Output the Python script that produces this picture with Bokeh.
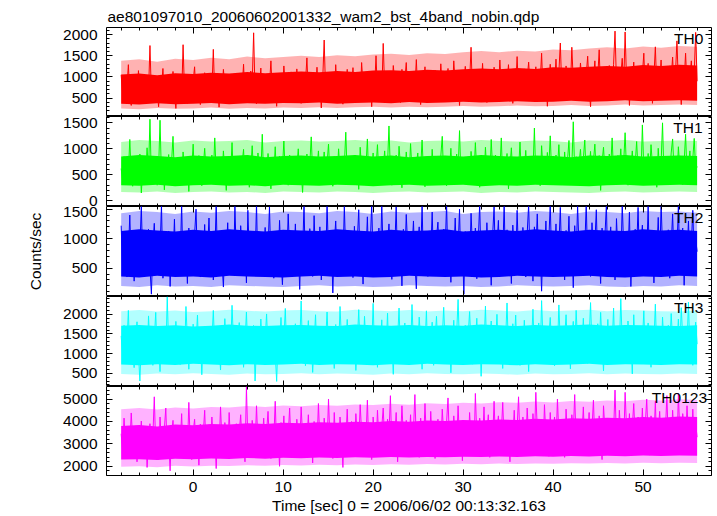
from bokeh.plotting import figure
from bokeh.layouts import column
from bokeh.models import (Range1d, LinearAxis, SingleIntervalTicker, Label,
                          CustomLabelingPolicy)
from bokeh.embed import file_html
from bokeh.resources import INLINE

TITLE = "ae801097010_20060602001332_wam2_bst_4band_nobin.qdp"
X_LABEL = "Time [sec] 0 = 2006/06/02 00:13:32.163"
Y_LABEL = "Counts/sec"
BANDS = ["TH0", "TH1", "TH2", "TH3", "TH0123"]

# fine light-curve samples
T_START = -8.0
T_STEP = 0.16

# envelopes of the unbinned curve, 2 s bins: solid core and sparse outer fringe
BIN_START = -8.0
BIN_STEP = 2.0

TH0 = [
    1050, 620, 410, 880, 730, 1290, 560, 330, 940, 690, 820, 480, 1150, 600, 760, 370, 990, 540, 870, 650,
    1740, 580, 830, 450, 1020, 690, 300, 910, 760, 1200, 520, 640, 980, 400, 850, 710, 1130, 570, 260, 800,
    690, 940, 510, 1760, 620, 830, 380, 1060, 740, 560, 900, 1240, 470, 680, 810, 350, 970, 620, 1100, 530,
    780, 430, 1010, 670, 1650, 550, 860, 720, 290, 940, 610, 1180, 800, 480, 700, 1030, 570, 890, 420, 760,
    640, 1090, 510, 830, 720, 1300, 450, 960, 680, 580, 1140, 820, 2040, 610, 370, 900, 760, 1210, 530, 870,
    690, 1020, 430, 800, 1380, 590, 910, 740, 310, 1070, 650, 860, 520, 1260, 780, 460, 950, 700, 1120, 560,
    830, 480, 1190, 700, 920, 380, 1050, 640, 870, 1450, 560, 760, 1010, 430, 890, 680, 1230, 590, 820, 270,
    960, 1870, 620, 840, 510, 1100, 730, 920, 450, 1290, 680, 800, 1040, 560, 360, 910, 770, 1180, 640, 990,
    710, 1220, 530, 880, 1010, 640, 420, 1340, 790, 960, 580, 1100, 690, 850, 300, 1030, 740, 1500, 610, 900,
    1060, 580, 1790, 720, 950, 470, 1140, 810, 640, 1270, 890, 530, 1010, 740, 400, 1180, 680, 920, 1340, 600,
    860, 1130, 490, 990, 720, 1410, 610, 880, 350, 1050, 770, 1240, 560, 930, 690, 1090, 820, 450, 1160, 710,
    950, 620, 1310, 780, 1060, 430, 890, 1200, 700, 980, 560, 1380, 840, 640, 1110, 330, 930, 1020, 760, 1250,
    690, 1040, 870, 1700, 590, 960, 1180, 480, 820, 1090, 730, 1320, 620, 900, 400, 1140, 780, 1010, 560, 1230,
    880, 1060, 650, 1400, 790, 940, 520, 1170, 830, 1290, 700, 990, 380, 1120, 760, 1480, 610, 930, 1050, 720,
    1190, 580, 960, 1350, 790, 1080, 440, 900, 1240, 680, 1030, 850, 1560, 620, 980, 1140, 310, 870, 1300, 740,
    1010, 810, 1420, 650, 1110, 1800, 720, 950, 530, 1260, 860, 1040, 690, 1700, 900, 1160, 470, 1000, 780, 1330,
    880, 1220, 640, 1050, 1490, 760, 300, 1130, 930, 1380, 700, 1010, 1640, 580, 960, 1190, 820, 1080, 500, 1270,
    970, 720, 1300, 2080, 860, 1150, 600, 1020, 1440, 780, 2060, 900, 1180, 330, 1060, 830, 1350, 650, 1110, 940,
    1240, 770, 1050, 1560, 610, 990, 1320, 860, 1150, 380, 1010, 1710, 730, 1080, 920, 1400, 560, 1190, 850, 1060,
    780, 1260, 960, 1470, 680, 1100, 1850, 840, 1030, 350, 1220, 900, 1560, 740, 1130, 990, 1380, 620, 1080, 2050,
    900,
]

TH1 = [
    620, 410, 850, 330, 720, 540, 1180, 460, 280, 690, 810, 370, 590, 900, 150, 640, 760, 480, 1020, 550,
    1570, 390, 700, 520, 860, 300, 610, 1550, 440, 780, 210, 660, 540, 890, 350, 730, 1240, 470, 620, 810,
    500, 760, 330, 940, 580, 420, 690, 180, 830, 610, 1090, 380, 720, 540, 870, 460, 290, 650, 1010, 560,
    740, 380, 610, 880, 470, 1210, 550, 320, 790, 640, 430, 960, 580, 200, 700, 860, 510, 1120, 410, 680,
    450, 830, 560, 310, 720, 990, 400, 650, 870, 260, 590, 1060, 480, 770, 340, 920, 630, 520, 1280, 390,
    670, 480, 910, 590, 230, 780, 520, 1040, 410, 690, 860, 350, 620, 1150, 500, 740, 300, 880, 560, 710,
    360, 820, 640, 1000, 470, 590, 160, 760, 540, 900, 420, 690, 1230, 510, 330, 810, 620, 960, 450, 730,
    580, 940, 400, 720, 1090, 510, 660, 280, 850, 610, 470, 1000, 550, 790, 380, 680, 1320, 490, 860, 320,
    690, 450, 880, 560, 740, 220, 1030, 600, 470, 800, 650, 1190, 390, 710, 540, 920, 300, 630, 1080, 500,
    830, 370, 620, 960, 480, 710, 1440, 540, 300, 760, 590, 880, 430, 1050, 650, 250, 790, 520, 940, 610,
    470, 1100, 560, 780, 350, 690, 920, 440, 620, 1170, 510, 270, 840, 600, 730, 400, 990, 550, 820, 380,
    710, 520, 860, 1240, 430, 640, 290, 770, 590, 1010, 480, 680, 350, 900, 570, 1350, 460, 740, 610, 830,
    540, 800, 330, 950, 620, 470, 1120, 570, 720, 260, 860, 640, 410, 1030, 530, 780, 390, 1180, 600, 700,
    880, 440, 690, 560, 1210, 380, 760, 610, 910, 230, 650, 1020, 500, 720, 840, 360, 590, 1130, 470, 800,
    600, 970, 490, 730, 350, 860, 560, 1400, 420, 680, 820, 290, 1060, 580, 710, 450, 930, 640, 1250, 510,
    760, 390, 880, 620, 1080, 470, 690, 310, 940, 550, 780, 1160, 430, 660, 1520, 520, 850, 370, 720, 990,
    530, 810, 1170, 450, 700, 600, 950, 330, 760, 1090, 490, 640, 870, 200, 740, 1030, 560, 680, 420, 900,
    650, 1210, 500, 790, 380, 870, 610, 1000, 460, 730, 1310, 550, 300, 820, 640, 960, 480, 700, 1140, 590,
    840, 420, 1460, 600, 730, 350, 910, 530, 1080, 680, 470, 790, 260, 1010, 570, 720, 1500, 440, 860, 630,
    710, 480, 920, 1190, 560, 780, 400, 1040, 620, 850, 310, 740, 1280, 530, 690, 960, 450, 810, 1200, 580,
    660,
]

TH2 = [
    1220, 480, 860, 1090, 350, 740, 1400, 560, 930, 280, 680, 1010, 450, 820, 1550, 600, 370, 970, 720, 1160,
    510, 60, 890, 1260, 640, 400, 1050, 780, 1580, 330, 700, 940, 520, 1130, 190, 850, 610, 1330, 460, 790,
    1020, 580, 1600, 420, 760, 900, 240, 1180, 660, 830, 470, 1070, 1500, 540, 720, 350, 980, 620, 1240, 430,
    800, 1350, 560, 1000, 300, 690, 1590, 470, 870, 1110, 620, 180, 940, 760, 1270, 510, 680, 1040, 390, 1570,
    650, 920, 430, 1220, 780, 560, 1030, 250, 1480, 700, 850, 480, 1130, 610, 1600, 370, 900, 740, 1060, 520,
    1190, 410, 820, 1540, 600, 960, 330, 730, 1080, 510, 1310, 680, 220, 890, 1020, 570, 1420, 780, 460, 1000,
    690, 1250, 520, 880, 140, 1050, 760, 1580, 430, 940, 610, 1170, 830, 360, 1390, 650, 990, 540, 1200, 300,
    860, 1100, 470, 1600, 720, 590, 1010, 80, 900, 1300, 640, 800, 390, 1140, 560, 1550, 700, 930, 450, 1060,
    780, 340, 1210, 620, 960, 1490, 530, 870, 230, 1040, 730, 1370, 480, 880, 1600, 610, 1080, 400, 750, 1180,
    560, 1600, 700, 1020, 420, 900, 1250, 650, 310, 1090, 830, 1540, 510, 740, 970, 200, 1160, 620, 1410, 860,
    430, 1050, 790, 1300, 580, 150, 940, 1200, 670, 1580, 480, 820, 1010, 360, 1130, 730, 1450, 560, 890, 1020,
    1280, 640, 900, 370, 1160, 780, 1600, 510, 990, 260, 1070, 700, 1350, 590, 830, 1500, 440, 950, 60, 1120,
    720, 1030, 480, 1430, 850, 610, 1180, 320, 960, 1590, 540, 780, 1100, 420, 1270, 680, 900, 210, 1060, 1540,
    590, 880, 1310, 460, 1000, 740, 1600, 380, 1150, 650, 930, 240, 1230, 810, 560, 1480, 700, 1040, 440, 1190,
    820, 350, 1090, 1580, 640, 910, 280, 1200, 760, 1420, 530, 870, 110, 1020, 690, 1300, 480, 960, 1600, 600,
    1040, 730, 1250, 410, 880, 1530, 620, 990, 300, 1140, 780, 1380, 500, 910, 170, 1220, 660, 1560, 840, 700,
    470, 1110, 860, 1600, 580, 1000, 360, 1270, 720, 930, 1490, 520, 820, 240, 1180, 670, 1050, 1580, 430, 900,
    1200, 640, 980, 300, 1340, 770, 1090, 520, 1600, 850, 410, 1020, 700, 1450, 190, 940, 610, 1160, 800, 1530,
    560, 920, 1230, 450, 1070, 690, 1560, 380, 860, 1130, 250, 990, 740, 1360, 520, 1600, 830, 470, 1050, 710,
    1150, 330, 880, 1420, 620, 1010, 770, 1590, 480, 940, 1180, 210, 1060, 710, 1300, 560, 900, 1480, 650, 1000,
    780,
]

TH3 = [
    1450, 980, 1720, 760, 1230, 2100, 890, 1560, 1100, 640, 1380, 1810, 1010, 300, 1290, 920, 1650, 1180, 820, 1960,
    1120, 1540, 700, 1350, 2050, 980, 1270, 540, 1690, 1060, 1430, 850, 2450, 1170, 760, 1580, 1310, 900, 1820, 1080,
    1400, 720, 1620, 1190, 960, 2200, 1340, 600, 1510, 1030, 1750, 870, 1260, 1980, 940, 1460, 460, 1370, 1090, 1700,
    1000, 1580, 780, 1310, 2100, 1150, 890, 1690, 1240, 580, 1480, 1020, 1890, 1170, 720, 1420, 1060, 2230, 1300, 840,
    1530, 1110, 1790, 960, 1390, 650, 1260, 2060, 1050, 1610, 880, 1340, 1720, 300, 1190, 1480, 990, 1880, 1230, 770,
    1370, 2010, 1080, 1560, 830, 1290, 1700, 1010, 290, 1450, 1150, 1920, 940, 1330, 2150, 1060, 1610, 780, 1270, 1490,
    1130, 1760, 870, 1420, 1210, 2340, 1000, 1550, 690, 1300, 1840, 1080, 1470, 520, 1250, 1990, 950, 1380, 1650, 1070,
    1500, 820, 1330, 2060, 1160, 1610, 900, 1400, 620, 1740, 1240, 1050, 2200, 1350, 760, 1590, 1120, 1870, 980, 1290,
    1680, 1030, 1460, 570, 1300, 2120, 1090, 1520, 860, 1950, 1200, 1410, 740, 1630, 1150, 2280, 1010, 1380, 650, 1570,
    1250, 1860, 940, 1440, 1130, 2030, 810, 1560, 1280, 470, 1700, 1060, 1390, 2160, 990, 1510, 1180, 1780, 880, 1330,
    1620, 1040, 2250, 1210, 760, 1480, 1100, 1930, 1320, 600, 1540, 1170, 2090, 910, 1410, 1250, 1800, 700, 1360, 1950,
    1090, 1570, 840, 1390, 2180, 1230, 1660, 960, 1440, 510, 1280, 1850, 1070, 1500, 2380, 1140, 1620, 830, 1350, 1720,
    980, 1460, 2070, 1200, 730, 1540, 1310, 1900, 1050, 1640, 420, 1380, 1160, 2210, 930, 1470, 1290, 1830, 770, 1560,
    1240, 2000, 1030, 1500, 1180, 620, 1690, 1350, 2290, 1080, 1420, 860, 1760, 1220, 1980, 990, 1530, 700, 1400, 1110,
    1850, 1160, 1390, 540, 1610, 1270, 2130, 1020, 1480, 1190, 1780, 880, 2350, 1300, 1070, 1560, 800, 1450, 1920, 1210,
    1340, 690, 1580, 1100, 2240, 1230, 1700, 940, 1410, 1990, 1150, 1520, 610, 1370, 1820, 1060, 2100, 1280, 870, 1640,
    1200, 1900, 1010, 1460, 750, 1330, 2300, 1180, 1600, 920, 1390, 1760, 1090, 2050, 1260, 560, 1510, 1140, 1870, 1020,
    1480, 1210, 2160, 850, 1370, 1650, 1110, 2400, 1290, 740, 1560, 1030, 1830, 1240, 1430, 480, 1990, 1160, 1380, 1700,
    1060, 1620, 1300, 2090, 960, 1450, 1780, 1150, 650, 1540, 1270, 2260, 1000, 1680, 1370, 840, 1930, 1210, 1500, 1090,
    1720, 1140, 2020, 1330, 790, 1590, 1250, 1880, 1040, 2170, 1410, 930, 1650, 1190, 2310, 1060, 1470, 700, 1360, 1800,
    1240,
]

TH0123 = [
    3450, 2700, 4150, 3000, 2350, 3620, 2900, 4380, 3180, 2560, 3800, 2200, 3350, 2980, 4020, 2620, 3250, 3700, 1950, 3100,
    3900, 2480, 3300, 5100, 2850, 3550, 2300, 4200, 3050, 2700, 3680, 4600, 2550, 3150, 1800, 3450, 4050, 2780, 3320, 2620,
    3600, 2950, 4350, 2400, 3150, 3780, 2650, 4850, 3050, 2300, 3520, 4100, 2750, 3300, 2050, 3880, 2900, 3420, 4500, 2600,
    3200, 3850, 2500, 4200, 2950, 3450, 1900, 3700, 2800, 4650, 3100, 2600, 3950, 3300, 2450, 4400, 3050, 3600, 2750, 3350,
    3900, 2650, 3500, 4300, 2900, 3250, 2200, 5550, 3100, 3750, 2600, 4050, 3400, 2800, 4700, 3000, 2400, 3650, 3200, 4150,
    2700, 3550, 4450, 3000, 2350, 3800, 3200, 4900, 2750, 3400, 2000, 3950, 3100, 4250, 2600, 3600, 3350, 4600, 2850, 3250,
    3700, 2500, 4100, 3150, 2800, 4650, 3350, 2450, 3900, 3050, 4300, 2700, 3500, 2150, 4000, 3250, 2900, 4800, 3150, 3600,
    2600, 4150, 3400, 2900, 5000, 3200, 3750, 2350, 4400, 3000, 3550, 2750, 4200, 3350, 1950, 3850, 3100, 4550, 2800, 3450,
    4000, 3050, 2650, 4350, 3300, 2900, 4750, 3500, 2450, 3800, 3150, 4950, 2850, 3600, 2300, 4200, 3400, 2700, 4500, 3200,
    2950, 3750, 4600, 3100, 2500, 4100, 3450, 5150, 2800, 3650, 3250, 4400, 2200, 3900, 3050, 4700, 3350, 2650, 4050, 3500,
    3150, 4300, 2750, 3600, 5200, 3000, 3800, 2400, 4150, 3350, 2900, 4800, 3200, 3700, 2550, 4450, 3050, 3900, 2350, 3550,
    4100, 3250, 2800, 4550, 3450, 2650, 3950, 5050, 3100, 3600, 2450, 4250, 3350, 2950, 4700, 3150, 3800, 2250, 4000, 3300,
    3700, 2700, 4400, 3200, 3900, 2550, 5250, 3350, 2900, 4150, 3600, 3050, 4650, 2800, 3500, 4300, 2400, 3750, 3150, 4900,
    3000, 3650, 4250, 2750, 3450, 4850, 3100, 2600, 4050, 3550, 2200, 3900, 3250, 4500, 2950, 3700, 5100, 3050, 2700, 4200,
    3500, 2850, 4600, 3300, 3950, 2500, 4350, 3150, 5300, 3650, 2900, 4100, 3400, 2650, 4750, 3250, 3800, 2450, 4400, 3050,
    3600, 4200, 2950, 5000, 3350, 2700, 4050, 3500, 2400, 4550, 3200, 3850, 2800, 4300, 3450, 5200, 3000, 3700, 2600, 4100,
    3300, 4650, 2900, 3800, 3150, 4400, 2550, 3650, 4950, 3050, 3500, 2750, 4250, 3350, 2300, 4700, 3600, 3000, 4050, 3450,
    2850, 4150, 3550, 5400, 3200, 2700, 4500, 3400, 3900, 2950, 5300, 3650, 3100, 4350, 2600, 3750, 4800, 3250, 2900, 4200,
    3550, 3050, 4600, 2750, 3850, 5000, 3300, 2500, 4250, 3700, 3150, 4900, 2850, 3500, 4450, 3200, 2650, 4050, 3600, 5150,
    3100, 3950, 2800, 4500, 3350, 4100, 2600, 5250, 3450, 3000, 4350, 3700, 2950, 4700, 3250, 3800, 2700, 4550, 3150, 3900,
    3300,
]

# solid core
TH0_CORE_LO = [370, 350, 380, 360, 370, 390, 360, 380, 370, 390, 380, 400, 370, 390, 400, 380, 410,
               390, 400, 420, 400, 410, 430, 410, 420, 440, 420, 430, 450, 430, 440, 450, 440]
TH0_CORE_HI = [1060, 1080, 1040, 1090, 1070, 1100, 1080, 1120, 1090, 1110, 1130, 1110, 1140, 1120, 1150, 1160, 1140,
               1170, 1150, 1180, 1200, 1180, 1210, 1190, 1230, 1220, 1240, 1260, 1240, 1280, 1260, 1290, 1270]
TH1_CORE_LO = [300, 290, 310, 280, 300, 310, 290, 300, 280, 310, 300, 290, 310, 300, 280, 300, 310,
               290, 300, 310, 280, 300, 290, 310, 300, 290, 280, 300, 310, 290, 300, 310, 300]
TH1_CORE_HI = [850, 880, 860, 840, 870, 850, 860, 880, 840, 860, 870, 850, 860, 880, 850, 870, 840,
               860, 870, 850, 880, 860, 850, 870, 860, 840, 870, 860, 880, 850, 860, 870, 860]
TH2_CORE_LO = [360, 340, 370, 350, 360, 340, 370, 360, 350, 340, 360, 370, 350, 360, 340, 350, 370,
               360, 350, 360, 340, 350, 370, 360, 350, 360, 370, 350, 340, 360, 350, 370, 360]
TH2_CORE_HI = [1130, 1160, 1140, 1120, 1150, 1130, 1160, 1140, 1120, 1150, 1140, 1130, 1160, 1140, 1120, 1150, 1130,
               1140, 1160, 1120, 1140, 1150, 1130, 1160, 1140, 1120, 1150, 1140, 1130, 1160, 1140, 1150, 1130]
TH3_CORE_LO = [720, 700, 730, 710, 740, 720, 700, 730, 710, 720, 740, 710, 730, 720, 700, 730, 710,
               740, 720, 710, 730, 720, 700, 730, 710, 720, 740, 710, 730, 720, 710, 730, 720]
TH3_CORE_HI = [1710, 1730, 1700, 1720, 1690, 1710, 1740, 1710, 1700, 1720, 1730, 1710, 1700, 1740, 1720, 1710, 1730,
               1700, 1720, 1710, 1740, 1720, 1700, 1730, 1710, 1720, 1740, 1710, 1730, 1720, 1710, 1700, 1720]
TH0123_CORE_LO = [2300, 2320, 2280, 2340, 2310, 2350, 2330, 2370, 2340, 2380, 2360, 2390, 2370, 2400, 2380, 2410, 2390,
                  2420, 2400, 2430, 2410, 2440, 2420, 2450, 2430, 2460, 2440, 2470, 2450, 2480, 2460, 2480, 2470]
TH0123_CORE_HI = [3800, 3840, 3780, 3860, 3830, 3890, 3860, 3920, 3890, 3940, 3920, 3970, 3940, 3990, 3970, 4020, 3990,
                  4040, 4020, 4070, 4040, 4090, 4070, 4120, 4090, 4140, 4120, 4170, 4140, 4200, 4170, 4220, 4200]

# outer fringe (thin spikes)
TH0_OUT_LO = [260, 240, 270, 250, 260, 280, 250, 270, 260, 280, 270, 290, 270, 290, 300, 280, 300,
              290, 300, 320, 300, 310, 330, 310, 320, 340, 320, 330, 350, 330, 340, 350, 340]
TH0_OUT_HI = [1380, 1420, 1360, 1430, 1400, 1450, 1420, 1480, 1440, 1470, 1500, 1470, 1510, 1490, 1530, 1550, 1520,
              1560, 1540, 1580, 1610, 1580, 1620, 1600, 1650, 1630, 1670, 1700, 1670, 1720, 1690, 1730, 1710]
TH1_OUT_LO = [170, 160, 180, 150, 170, 180, 160, 170, 150, 180, 170, 160, 180, 170, 150, 170, 180,
              160, 170, 180, 150, 170, 160, 180, 170, 160, 150, 170, 180, 160, 170, 180, 170]
TH1_OUT_HI = [1130, 1170, 1150, 1120, 1160, 1140, 1150, 1170, 1120, 1150, 1160, 1140, 1150, 1170, 1140, 1160, 1120,
              1150, 1160, 1140, 1170, 1150, 1140, 1160, 1150, 1120, 1160, 1150, 1170, 1140, 1150, 1160, 1150]
TH2_OUT_LO = [200, 180, 210, 190, 200, 180, 210, 200, 190, 180, 200, 210, 190, 200, 180, 190, 210,
              200, 190, 200, 180, 190, 210, 200, 190, 200, 210, 190, 180, 200, 190, 210, 200]
TH2_OUT_HI = [1430, 1470, 1450, 1420, 1460, 1440, 1470, 1450, 1420, 1460, 1450, 1430, 1470, 1450, 1420, 1460, 1440,
              1450, 1470, 1420, 1450, 1460, 1440, 1470, 1450, 1420, 1460, 1450, 1430, 1470, 1450, 1460, 1440]
TH3_OUT_LO = [480, 460, 490, 470, 500, 480, 460, 490, 470, 480, 500, 470, 490, 480, 460, 490, 470,
              500, 480, 470, 490, 480, 460, 490, 470, 480, 500, 470, 490, 480, 470, 490, 480]
TH3_OUT_HI = [2080, 2110, 2070, 2100, 2060, 2080, 2120, 2090, 2070, 2100, 2110, 2080, 2070, 2120, 2100, 2080, 2110,
              2070, 2100, 2080, 2120, 2100, 2070, 2110, 2080, 2100, 2120, 2080, 2110, 2100, 2080, 2070, 2100]
TH0123_OUT_LO = [1980, 2000, 1960, 2020, 1990, 2030, 2010, 2050, 2020, 2060, 2040, 2070, 2050, 2080, 2060, 2090, 2070,
                 2100, 2080, 2110, 2090, 2120, 2100, 2130, 2110, 2140, 2120, 2150, 2130, 2160, 2140, 2160, 2150]
TH0123_OUT_HI = [4550, 4600, 4530, 4620, 4580, 4650, 4620, 4690, 4650, 4710, 4680, 4740, 4700, 4760, 4730, 4790, 4750,
                 4810, 4780, 4840, 4800, 4860, 4830, 4890, 4850, 4910, 4880, 4940, 4900, 4970, 4930, 4990, 4960]

SERIES = [TH0, TH1, TH2, TH3, TH0123]
CORE_LO = [TH0_CORE_LO, TH1_CORE_LO, TH2_CORE_LO, TH3_CORE_LO, TH0123_CORE_LO]
CORE_HI = [TH0_CORE_HI, TH1_CORE_HI, TH2_CORE_HI, TH3_CORE_HI, TH0123_CORE_HI]
OUT_LO = [TH0_OUT_LO, TH1_OUT_LO, TH2_OUT_LO, TH3_OUT_LO, TH0123_OUT_LO]
OUT_HI = [TH0_OUT_HI, TH1_OUT_HI, TH2_OUT_HI, TH3_OUT_HI, TH0123_OUT_HI]
COLORS = ["#ff0000", "#00ff00", "#0000ff", "#00ffff", "#ff00ff"]
Y_RANGES = [(70, 2165), (-110, 1622), (20, 1545), (160, 2455), (1590, 5560)]
Y_TICK_STEP = [500, 500, 500, 500, 1000]
X_RANGE = (-9.63, 57.6)
LABEL_X = [56.7, 56.6, 56.7, 56.7, 57.1]

FONT = "Liberation Sans"
FS = "15.5px"

# layout (pixels)
WIDTH = 716
HEIGHTS = [116, 90, 90, 90, 130]
TOPS = [27, 0, 0, 0, 0]
BOTTOMS = [0, 0, 0, 0, 40]


def style_ticks(ax):
    ax.major_tick_in = 6
    ax.major_tick_out = 0
    ax.minor_tick_in = 3
    ax.minor_tick_out = 0
    ax.major_tick_line_color = "black"
    ax.minor_tick_line_color = "black"
    ax.axis_line_color = None


def hide_labels(ax):
    ax.major_label_policy = CustomLabelingPolicy(code="return []")
    ax.major_label_text_font_size = "0px"
    ax.major_label_standoff = 0


def show_labels(ax, standoff):
    ax.major_label_text_font = FONT
    ax.major_label_text_font_size = FS
    ax.major_label_text_color = "black"
    ax.major_label_standoff = standoff


x_range = Range1d(*X_RANGE)
figs = []
for i in range(5):
    series = SERIES[i]
    time = [T_START + T_STEP * k for k in range(len(series))]
    bins = [BIN_START + BIN_STEP * k for k in range(len(CORE_LO[i]))]
    kw = {}
    if i == 0:
        kw["title"] = TITLE
    p = figure(width=WIDTH, height=HEIGHTS[i], x_range=x_range,
               y_range=Range1d(*Y_RANGES[i]), output_backend="svg",
               toolbar_location=None, min_border_left=106, min_border_right=5,
               min_border_top=TOPS[i], min_border_bottom=BOTTOMS[i], **kw)
    p.xgrid.visible = False
    p.ygrid.visible = False
    p.outline_line_color = "black"
    p.outline_line_width = 1
    p.outline_line_alpha = 1
    p.background_fill_color = "white"
    p.border_fill_color = "white"

    p.varea(x=bins, y1=OUT_LO[i], y2=OUT_HI[i], fill_color=COLORS[i], fill_alpha=0.3)
    p.varea(x=bins, y1=CORE_LO[i], y2=CORE_HI[i], fill_color=COLORS[i], fill_alpha=1)
    p.line(time, series, line_color=COLORS[i], line_width=1)

    bx = p.xaxis[0]
    bx.ticker = SingleIntervalTicker(interval=10, num_minor_ticks=5)
    style_ticks(bx)
    if i == 4:
        show_labels(bx, 6)
        bx.axis_label = X_LABEL
        bx.axis_label_text_font = FONT
        bx.axis_label_text_font_size = FS
        bx.axis_label_text_font_style = "normal"
        bx.axis_label_text_color = "black"
        bx.axis_label_standoff = 2
    else:
        hide_labels(bx)

    tx = LinearAxis(ticker=SingleIntervalTicker(interval=10, num_minor_ticks=5))
    style_ticks(tx)
    hide_labels(tx)
    p.add_layout(tx, "above")

    ly = p.yaxis[0]
    ly.ticker = SingleIntervalTicker(interval=Y_TICK_STEP[i], num_minor_ticks=5)
    style_ticks(ly)
    show_labels(ly, 9)
    if i == 2:
        ly.axis_label = Y_LABEL
        ly.axis_label_text_font = FONT
        ly.axis_label_text_font_size = FS
        ly.axis_label_text_font_style = "normal"
        ly.axis_label_text_color = "black"
        ly.axis_label_standoff = 16

    ry = LinearAxis(ticker=SingleIntervalTicker(interval=Y_TICK_STEP[i], num_minor_ticks=5))
    style_ticks(ry)
    hide_labels(ry)
    p.add_layout(ry, "right")

    if i == 0:
        p.title.text_font = FONT
        p.title.text_font_size = FS
        p.title.text_font_style = "normal"
        p.title.text_color = "black"
        p.title.align = "left"
        p.title.offset = 1
        p.title.standoff = 6

    p.add_layout(Label(x=LABEL_X[i], y=Y_RANGES[i][1], text=BANDS[i],
                       text_align="right", text_baseline="top", y_offset=-2,
                       text_font=FONT, text_font_size=FS, text_color="black"))
    figs.append(p)

layout = column(*figs, spacing=0)
open("out.html", "w").write(file_html(layout, INLINE))
